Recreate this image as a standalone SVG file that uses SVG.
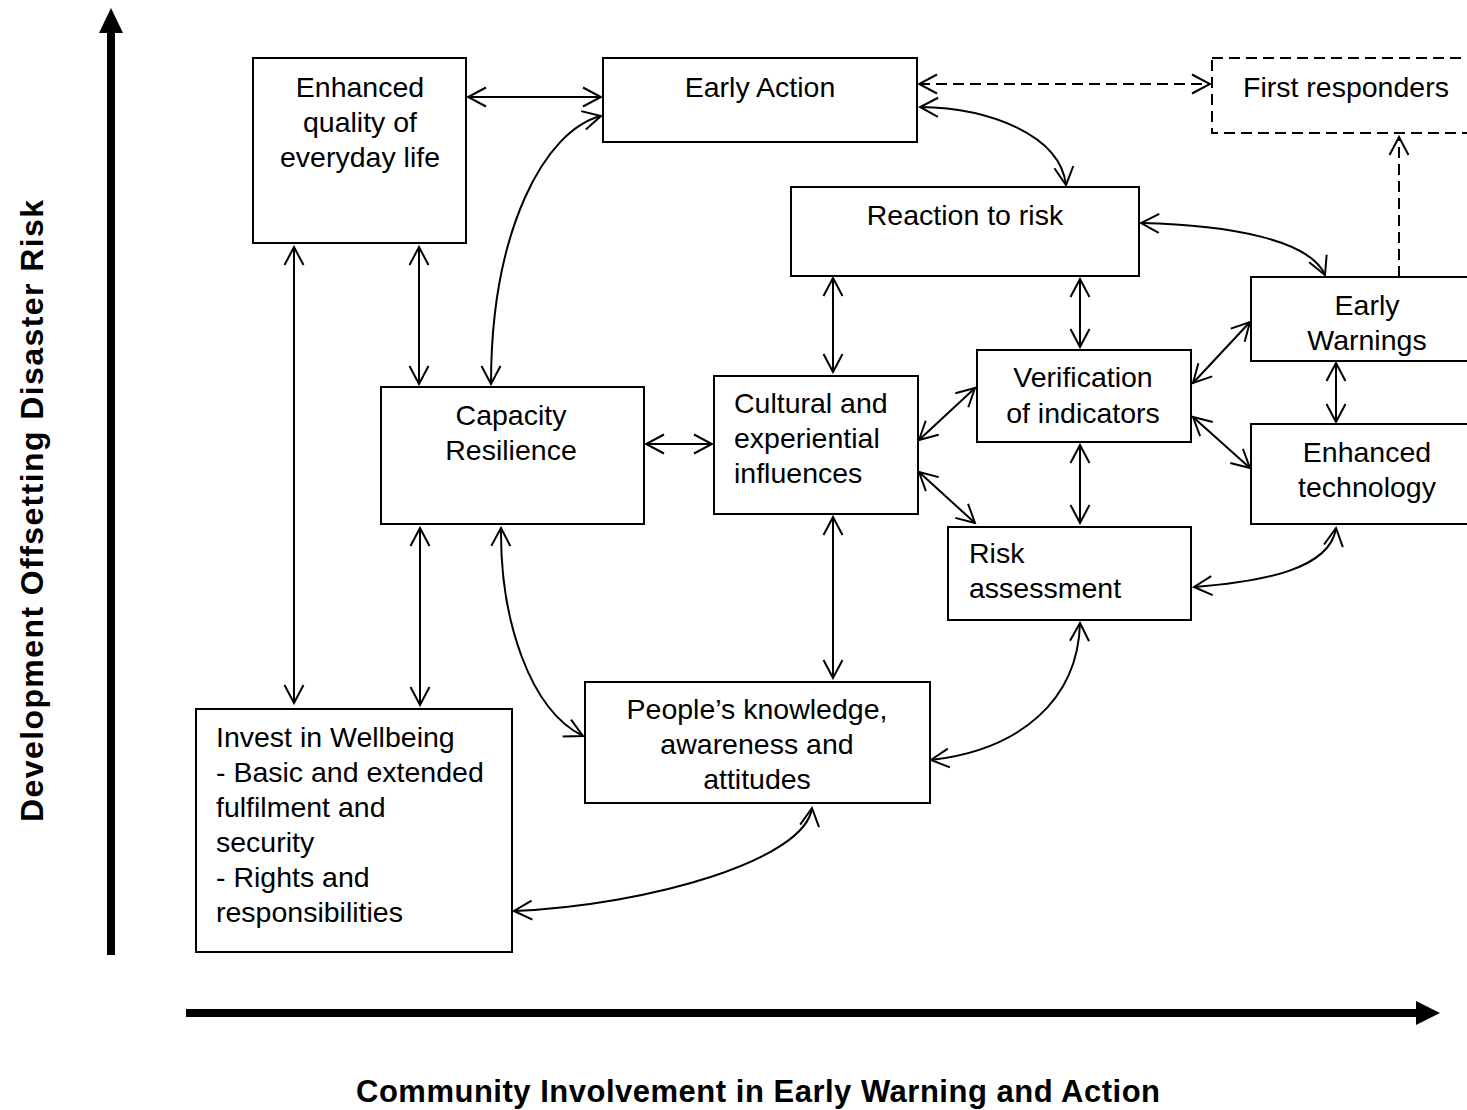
<svg xmlns="http://www.w3.org/2000/svg" width="1467" height="1110" viewBox="0 0 1467 1110">
<defs>
<style>
.box{fill:#fff;stroke:#000;stroke-width:2}
.dbox{fill:#fff;stroke:#000;stroke-width:2;stroke-dasharray:11,6}
.t{font-family:"Liberation Sans",Arial,sans-serif;font-size:28.5px;fill:#000}
.c{text-anchor:middle}
.lab{font-family:"Liberation Sans",Arial,sans-serif;font-weight:bold;fill:#000;text-anchor:middle}
.con{fill:none;stroke:#000;stroke-width:2;marker-start:url(#ah);marker-end:url(#ah)}
.dcon{fill:none;stroke:#000;stroke-width:2;stroke-dasharray:11,6}
</style>
<marker id="ah" markerUnits="userSpaceOnUse" viewBox="-20 -11 22 22" refX="0" refY="0" markerWidth="22" markerHeight="22" orient="auto-start-reverse">
<path d="M-18,-9.5 L0,0 L-18,9.5" fill="none" stroke="#000" stroke-width="2"/>
</marker>
</defs>
<rect width="1467" height="1110" fill="#fff"/>

<g id="axes">
<line x1="111" y1="955" x2="111" y2="30" stroke="#000" stroke-width="8"/>
<polygon points="99,33 123,33 111,8" fill="#000"/>
<line x1="186" y1="1013" x2="1418" y2="1013" stroke="#000" stroke-width="8"/>
<polygon points="1416,1001 1416,1025 1440,1013" fill="#000"/>
<text class="lab" font-size="32" transform="translate(43,511) rotate(-90)" textLength="622" lengthAdjust="spacing">Development Offsetting Disaster Risk</text>
<text class="lab" font-size="31" x="758" y="1102" textLength="804" lengthAdjust="spacing">Community Involvement in Early Warning and Action</text>
</g>

<g id="connectors">
<path class="con" d="M468,97 L601,97"/>
<path class="dcon" d="M919,84 L1210,84" marker-start="url(#ah)" marker-end="url(#ah)"/>
<path class="con" d="M920,107 C990,108 1060,135 1066,185"/>
<path class="con" d="M1141,223 C1230,225 1310,240 1325,275"/>
<path class="dcon" d="M1399,277 L1399,137" marker-end="url(#ah)"/>
<path class="con" d="M294,247 L294,703"/>
<path class="con" d="M419,247 L419,384"/>
<path class="con" d="M601,116 C545,130 491,230 491,384"/>
<path class="con" d="M833,278 L833,372"/>
<path class="con" d="M1080,279 L1080,347"/>
<path class="con" d="M646,444 L712,444"/>
<path class="con" d="M919,440 L975,388"/>
<path class="con" d="M919,472 L975,523"/>
<path class="con" d="M1193,383 L1250,322"/>
<path class="con" d="M1193,417 L1250,468"/>
<path class="con" d="M1336,363 L1336,422"/>
<path class="con" d="M1080,445 L1080,523"/>
<path class="con" d="M1194,587 C1260,582 1330,570 1336,528"/>
<path class="con" d="M833,517 L833,678"/>
<path class="con" d="M420,528 L420,705"/>
<path class="con" d="M501,528 C500,620 530,710 583,736"/>
<path class="con" d="M931,760 C1020,750 1078,700 1080,623"/>
<path class="con" d="M514,911 C650,905 805,860 812,808"/>
</g>

<g id="n-enhanced-quality">
<rect class="box" x="253" y="58" width="213" height="185"/>
<text class="t c" x="360" y="97">Enhanced</text>
<text class="t c" x="360" y="132">quality of</text>
<text class="t c" x="360" y="167">everyday life</text>
</g>

<g id="n-early-action">
<rect class="box" x="603" y="58" width="314" height="84"/>
<text class="t c" x="760" y="97">Early Action</text>
</g>

<g id="n-first-responders">
<rect class="dbox" x="1212" y="58" width="280" height="75"/>
<text class="t" x="1243" y="97">First responders</text>
</g>

<g id="n-reaction">
<rect class="box" x="791" y="187" width="348" height="89"/>
<text class="t c" x="965" y="225">Reaction to risk</text>
</g>

<g id="n-early-warnings">
<rect class="box" x="1251" y="277" width="240" height="84"/>
<text class="t c" x="1367" y="315">Early</text>
<text class="t c" x="1367" y="350">Warnings</text>
</g>

<g id="n-verification">
<rect class="box" x="977" y="350" width="214" height="92"/>
<text class="t c" x="1083" y="387">Verification</text>
<text class="t c" x="1083" y="423">of indicators</text>
</g>

<g id="n-enhanced-technology">
<rect class="box" x="1251" y="424" width="240" height="100"/>
<text class="t c" x="1367" y="462">Enhanced</text>
<text class="t c" x="1367" y="497">technology</text>
</g>

<g id="n-capacity">
<rect class="box" x="381" y="387" width="263" height="137"/>
<text class="t c" x="511" y="425">Capacity</text>
<text class="t c" x="511" y="460">Resilience</text>
</g>

<g id="n-cultural">
<rect class="box" x="714" y="376" width="204" height="138"/>
<text class="t" x="734" y="413">Cultural and</text>
<text class="t" x="734" y="448">experiential</text>
<text class="t" x="734" y="483">influences</text>
</g>

<g id="n-risk-assessment">
<rect class="box" x="948" y="527" width="243" height="93"/>
<text class="t" x="969" y="563">Risk</text>
<text class="t" x="969" y="598">assessment</text>
</g>

<g id="n-people">
<rect class="box" x="585" y="682" width="345" height="121"/>
<text class="t c" x="757" y="719">People’s knowledge,</text>
<text class="t c" x="757" y="754">awareness and</text>
<text class="t c" x="757" y="789">attitudes</text>
</g>

<g id="n-invest">
<rect class="box" x="196" y="709" width="316" height="243"/>
<text class="t" x="216" y="747">Invest in Wellbeing</text>
<text class="t" x="216" y="782">- Basic and extended</text>
<text class="t" x="216" y="817">fulfilment and</text>
<text class="t" x="216" y="852">security</text>
<text class="t" x="216" y="887">- Rights and</text>
<text class="t" x="216" y="922">responsibilities</text>
</g>
</svg>
